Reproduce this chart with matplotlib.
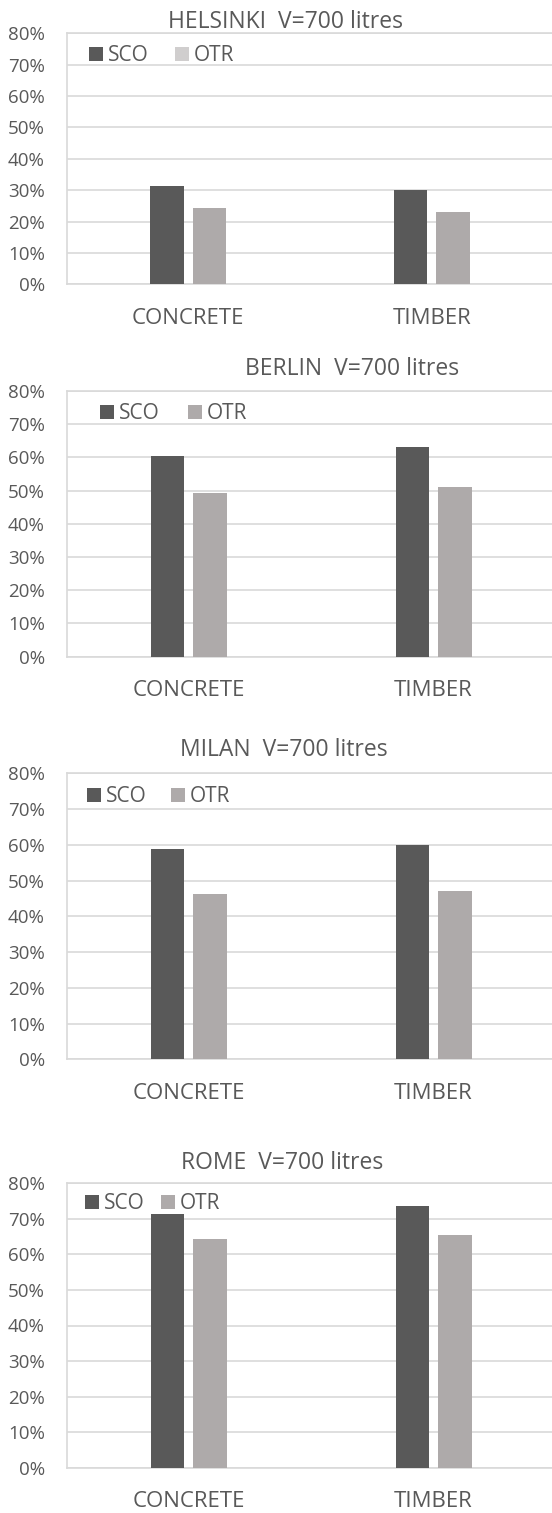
import matplotlib
matplotlib.use('Agg')
import matplotlib.pyplot as plt
from matplotlib.patches import Patch
from matplotlib.ticker import FuncFormatter

plt.rcParams['font.family'] = ['Open Sans', 'DejaVu Sans']

# ---- data ----
categories = ['CONCRETE', 'TIMBER']
series = ['SCO', 'OTR']
titles = ['HELSINKI  V=700 litres', 'BERLIN  V=700 litres',
          'MILAN  V=700 litres', 'ROME  V=700 litres']
sco_helsinki = [31.3, 30.2]
otr_helsinki = [24.3, 23.2]
sco_berlin = [60.4, 63.0]
otr_berlin = [49.2, 51.0]
sco_milan = [58.7, 59.9]
otr_milan = [46.3, 47.1]
sco_rome = [71.4, 73.6]
otr_rome = [64.3, 65.4]
y_ticks = [0, 10, 20, 30, 40, 50, 60, 70, 80]

sco_values = [sco_helsinki, sco_berlin, sco_milan, sco_rome]
otr_values = [otr_helsinki, otr_berlin, otr_milan, otr_rome]

# ---- style / layout (pixels) ----
W, H = 552, 1513
C_SCO = '#595959'
C_OTR = '#AEAAAA'
C_OTR_LEG = ['#D0CECE', '#AEAAAA', '#AEAAAA', '#AEAAAA']
C_TXT = '#595959'
C_GRID = '#D9D9D9'

panels = [
    dict(top=33.3, bottom=284.3, left=66.5, right=553.6, tx=168, tb=28.3, lx=89.3, ly=72.8, cs=26),
    dict(top=391.0, bottom=656.7, left=66.5, right=556.0, tx=245, tb=375.0, lx=100.4, ly=73.1, cs=28),
    dict(top=773.3, bottom=1059.3, left=66.5, right=556.0, tx=179.6, tb=756.0, lx=87.3, ly=73.4, cs=24),
    dict(top=1183.3, bottom=1467.7, left=66.5, right=556.0, tx=181, tb=1169.3, lx=85.2, ly=74.2, cs=16),
]

fig = plt.figure(figsize=(W / 100, H / 100), dpi=100)
fig.patch.set_facecolor('white')

bar_w = 0.137
off = 0.087
leg_fs = 15
em = leg_fs * 100 / 72

for i, p in enumerate(panels):
    ax = fig.add_axes([p['left'] / W, 1 - p['bottom'] / H,
                       (p['right'] - p['left']) / W, (p['bottom'] - p['top']) / H])
    x = list(range(len(categories)))
    ax.bar([v - off for v in x], sco_values[i], width=bar_w, color=C_SCO, zorder=3)
    ax.bar([v + off for v in x], otr_values[i], width=bar_w, color=C_OTR, zorder=3)
    ax.set_xlim(-0.5, 1.5)
    ax.set_ylim(0, 80)
    ax.set_yticks(y_ticks)
    ax.yaxis.set_major_formatter(FuncFormatter(lambda v, _: f'{int(v)}%'))
    ax.set_xticks(x)
    ax.set_xticklabels(categories)
    ax.grid(axis='y', color=C_GRID, linewidth=1.2, zorder=0)
    ax.set_axisbelow(True)
    for s in ['left', 'top', 'bottom', 'right']:
        ax.spines[s].set_color(C_GRID)
        ax.spines[s].set_linewidth(1.2)
    ax.tick_params(axis='y', length=0, pad=15.5, labelsize=13.5, labelcolor=C_TXT)
    ax.tick_params(axis='x', length=0, pad=17, labelsize=16, labelcolor=C_TXT)

    handles = [Patch(facecolor=C_SCO), Patch(facecolor=C_OTR_LEG[i])]
    lx = (p['lx'] - p['left']) / (p['right'] - p['left'])
    ax.legend(handles, series, loc='center left', bbox_to_anchor=(lx, p['ly'] / 80),
              ncol=2, frameon=False, borderpad=0, borderaxespad=0,
              handlelength=14 / em, handleheight=14 / em,
              handletextpad=5 / em, columnspacing=p['cs'] / em,
              fontsize=leg_fs, labelcolor=C_TXT)

    fig.text(p['tx'] / W, 1 - p['tb'] / H, titles[i], ha='left', va='baseline',
             fontsize=16.5, color=C_TXT)

fig.savefig('out.png', dpi=100, facecolor='white')
